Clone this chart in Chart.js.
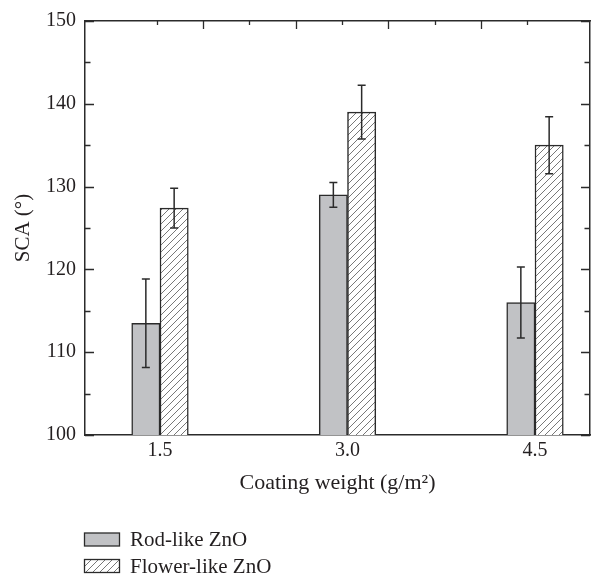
<!DOCTYPE html>
<html>
<head>
<meta charset="utf-8">
<script src="https://cdn.jsdelivr.net/npm/chart.js@4.4.1/dist/chart.umd.min.js"></script>
<style>
  html, body { margin: 0; padding: 0; background: #fff; }
  #wrap { width: 592px; height: 577px; position: relative; }
</style>
</head>
<body>
<div id="wrap"><canvas id="myChart"></canvas></div>
<script>
// data
const coatingWeights = [1.5, 3.0, 4.5];
const rodSCA = [113.5, 129.0, 116.0];
const rodErr = [5.35, 1.5, 4.3];
const flowerSCA = [127.4, 139.0, 135.0];
const flowerErr = [2.4, 3.25, 3.45];
const yTicks = [100, 110, 120, 130, 140, 150];
const seriesNames = ['Rod-like ZnO', 'Flower-like ZnO'];

const ink = '#2b2b2b';
const textInk = '#231f20';
const serif = "'Liberation Serif', 'Times New Roman', serif";

// diagonal hatch for the flower-like bars
function hatch() {
  const c = document.createElement('canvas');
  c.width = 7; c.height = 7;
  const g = c.getContext('2d');
  g.fillStyle = '#fff';
  g.fillRect(0, 0, 7, 7);
  g.strokeStyle = '#555';
  g.lineWidth = 0.8;
  g.beginPath();
  g.moveTo(-1, 8); g.lineTo(8, -1);
  g.moveTo(-1, 1); g.lineTo(1, -1);
  g.moveTo(6, 8); g.lineTo(8, 6);
  g.stroke();
  return g.createPattern(c, 'repeat');
}
const hatchFill = hatch();

// error bars on top of each bar
const errorBars = {
  id: 'errorBars',
  afterDatasetsDraw(chart) {
    const ctx = chart.ctx, y = chart.scales.y;
    ctx.save();
    ctx.strokeStyle = ink;
    ctx.lineWidth = 1.5;
    chart.data.datasets.forEach((ds, i) => {
      chart.getDatasetMeta(i).data.forEach((bar, j) => {
        const v = ds.data[j].y, e = ds.errors[j];
        const t = y.getPixelForValue(v + e), b = y.getPixelForValue(v - e);
        ctx.beginPath();
        ctx.moveTo(bar.x, t); ctx.lineTo(bar.x, b);
        ctx.moveTo(bar.x - 4, t); ctx.lineTo(bar.x + 4, t);
        ctx.moveTo(bar.x - 4, b); ctx.lineTo(bar.x + 4, b);
        ctx.stroke();
      });
    });
    ctx.restore();
  }
};

// inward tick marks on left/right/top
const innerTicks = {
  id: 'innerTicks',
  afterDraw(chart) {
    const ctx = chart.ctx, a = chart.chartArea;
    const y = chart.scales.y, x2 = chart.scales.x2;
    ctx.save();
    ctx.strokeStyle = ink;
    ctx.lineWidth = 1.3;
    ctx.beginPath();
    for (let v = 100; v <= 150; v += 5) {
      const py = Math.round(y.getPixelForValue(v)) + 0.5;
      const len = v % 10 === 0 ? 9 : 5.5;
      ctx.moveTo(a.left, py); ctx.lineTo(a.left + len, py);
      ctx.moveTo(a.right, py); ctx.lineTo(a.right - len, py);
    }
    for (let v = 1; v <= 9; v++) {
      const px = Math.round(x2.getPixelForValue(v)) + 0.5;
      const len = v % 2 === 0 ? 8 : 4;
      ctx.moveTo(px, a.top); ctx.lineTo(px, a.top + len);
    }
    ctx.stroke();
    ctx.restore();
  }
};

// vertical legend under the axis title
const stackedLegend = {
  id: 'stackedLegend',
  afterDraw(chart) {
    const ctx = chart.ctx;
    ctx.save();
    ctx.font = '21px ' + serif;
    ctx.textBaseline = 'middle';
    chart.data.datasets.forEach((ds, i) => {
      const cy = 539.5 + i * 26.5;
      ctx.fillStyle = ds.backgroundColor;
      ctx.fillRect(84, cy - 6.5, 36, 13);
      ctx.strokeStyle = ink;
      ctx.lineWidth = 1.3;
      ctx.strokeRect(84.5, cy - 6.5, 35, 13);
      ctx.fillStyle = textInk;
      ctx.fillText(ds.label, 130, cy + 1);
    });
    ctx.restore();
  }
};

Chart.defaults.font.family = serif;
Chart.defaults.color = textInk;

const config = {
  type: 'bar',
  data: {
    datasets: [{
      label: seriesNames[0],
      data: coatingWeights.map((w, i) => ({ x: w, y: rodSCA[i] })),
      errors: rodErr,
      backgroundColor: '#c1c2c5',
      borderColor: ink,
      borderWidth: 1.5,
      borderSkipped: false,
      barThickness: 28.3
    }, {
      label: seriesNames[1],
      data: coatingWeights.map((w, i) => ({ x: w, y: flowerSCA[i] })),
      errors: flowerErr,
      backgroundColor: hatchFill,
      borderColor: ink,
      borderWidth: 1.5,
      borderSkipped: false,
      barThickness: 28.3
    }]
  },
  options: {
    responsive: true,
    maintainAspectRatio: false,
    animation: false,
    layout: { padding: { top: 18, right: 0, left: 0, bottom: 77 } },
    plugins: { legend: { display: false }, tooltip: { enabled: false } },
    scales: {
      x: {
        type: 'linear',
        position: 'bottom',
        min: 0.9,
        max: 4.94,
        offset: false,
        afterBuildTicks: s => { s.ticks = coatingWeights.map(v => ({ value: v })); },
        afterFit: s => { s.height = 65; },
        ticks: {
          padding: 4,
          maxRotation: 0,
          font: { size: 20 },
          callback: v => v.toFixed(1)
        },
        grid: { display: false, drawTicks: false, offset: false },
        border: { display: true, color: ink, width: 1.5 },
        title: {
          display: true,
          text: 'Coating weight (g/m²)',
          font: { size: 22 },
          padding: { top: 0, bottom: 4 }
        }
      },
      x2: {
        type: 'linear',
        position: 'top',
        min: 0,
        max: 9.806,
        afterFit: s => { s.height = 0; },
        ticks: { display: false },
        grid: { display: false, drawTicks: false },
        border: { display: true, color: ink, width: 1.5 }
      },
      y: {
        position: 'left',
        min: 100,
        max: 150,
        afterBuildTicks: s => { s.ticks = yTicks.map(v => ({ value: v })); },
        afterFit: s => { s.width = 85; },
        ticks: { padding: 9, font: { size: 20 } },
        grid: { display: false, drawTicks: false },
        border: { display: true, color: ink, width: 1.5 },
        title: {
          display: true,
          text: 'SCA (°)',
          font: { size: 21 },
          padding: { top: 11, bottom: 0 }
        }
      },
      y2: {
        position: 'right',
        min: 100,
        max: 150,
        afterFit: s => { s.width = 2; },
        ticks: { display: false },
        grid: { display: false, drawTicks: false },
        border: { display: true, color: ink, width: 1.5 }
      }
    }
  },
  plugins: [errorBars, innerTicks, stackedLegend]
};

const myChart = new Chart(document.getElementById('myChart'), config);
</script>
</body>
</html>
